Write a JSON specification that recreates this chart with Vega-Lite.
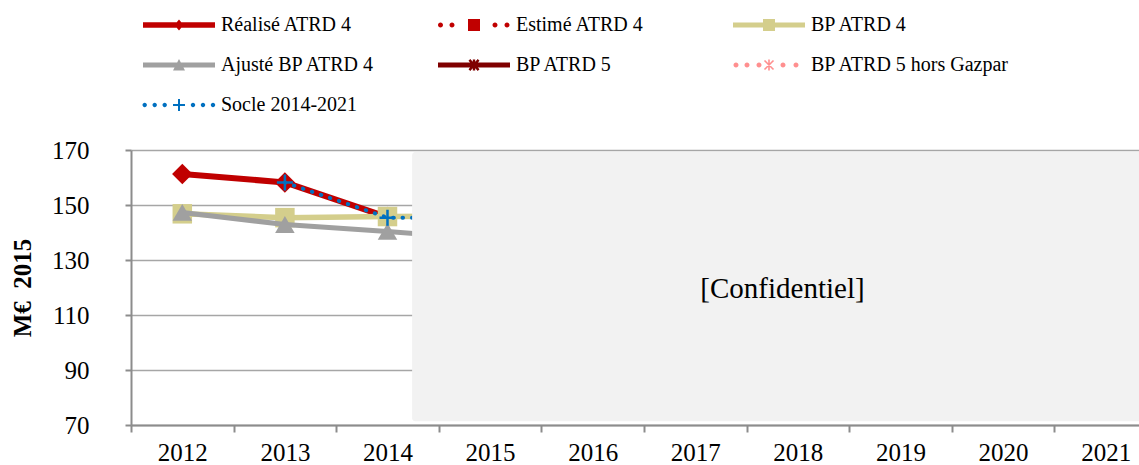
{
  "$schema": "https://vega.github.io/schema/vega-lite/v6.json",
  "autosize": {"type": "none"},
  "padding": {"left": 131, "top": 150, "right": 0, "bottom": 40},
  "width": 1008,
  "height": 275,
  "background": "white",
  "config": {
    "view": {"stroke": null},
    "font": "Liberation Serif",
    "axis": {"labelFont": "Liberation Serif", "titleFont": "Liberation Serif", "labelColor": "#000000", "titleColor": "#000000"}
  },
  "datasets": {
    "series": [
      {"series": "Réalisé ATRD 4", "year": 2012, "value": 161.3},
      {"series": "Réalisé ATRD 4", "year": 2013, "value": 158.2},
      {"series": "Réalisé ATRD 4", "year": 2014, "value": 145.6},
      {"series": "BP ATRD 4", "year": 2012, "value": 146.8},
      {"series": "BP ATRD 4", "year": 2013, "value": 145.4},
      {"series": "BP ATRD 4", "year": 2014, "value": 145.8},
      {"series": "BP ATRD 4", "year": 2015, "value": 146.0},
      {"series": "Ajusté BP ATRD 4", "year": 2012, "value": 147.3},
      {"series": "Ajusté BP ATRD 4", "year": 2013, "value": 142.9},
      {"series": "Ajusté BP ATRD 4", "year": 2014, "value": 140.4},
      {"series": "Ajusté BP ATRD 4", "year": 2015, "value": 137.5},
      {"series": "Socle 2014-2021", "year": 2013, "value": 158.2},
      {"series": "Socle 2014-2021", "year": 2014, "value": 145.4},
      {"series": "Socle 2014-2021", "year": 2015, "value": 145.3}
    ],
    "mask": [
      {"start": 2014.24, "end": 2021.6, "low": 71.4, "high": 169.3, "label": "[Confidentiel]", "labelYear": 2017.85, "labelValue": 119.3}
    ]
  },
  "encoding": {
    "x": {
      "field": "year", "type": "quantitative",
      "scale": {"domain": [2011.5, 2021.325], "nice": false, "zero": false},
      "axis": {
        "values": [2012, 2013, 2014, 2015, 2016, 2017, 2018, 2019, 2020, 2021],
        "format": "d", "title": null, "grid": false,
        "labelFontSize": 25, "labelPadding": 8, "labelFlush": false, "labelOverlap": false,
        "tickSize": 7, "tickOffset": -51.3, "labelOffset": 51.3,
        "tickColor": "#8c8c8c", "tickWidth": 2, "domainColor": "#8c8c8c", "domainWidth": 2
      }
    },
    "y": {
      "field": "value", "type": "quantitative",
      "scale": {"domain": [70, 170], "nice": false, "zero": false},
      "axis": {
        "values": [70, 90, 110, 130, 150, 170],
        "title": "M€ \u00a02015", "titleFontSize": 25, "titleFontWeight": "bold", "titlePadding": 16,
        "labelFontSize": 25, "labelPadding": 36,
        "tickSize": 6, "tickColor": "#8c8c8c", "tickWidth": 2,
        "domainColor": "#8c8c8c", "domainWidth": 2,
        "grid": true, "gridColor": "#a6a6a6", "gridWidth": 1.5
      }
    }
  },
  "layer": [
    {
      "data": {"name": "series"},
      "transform": [{"filter": "datum.series === 'Réalisé ATRD 4'"}],
      "mark": {"type": "line", "color": "#C00000", "strokeWidth": 6, "strokeCap": "round", "strokeJoin": "round"}
    },
    {
      "data": {"name": "series"},
      "transform": [{"filter": "datum.series === 'Réalisé ATRD 4'"}],
      "mark": {"type": "point", "shape": "diamond", "filled": true, "color": "#C00000", "size": 420, "opacity": 1}
    },
    {
      "data": {"name": "series"},
      "transform": [{"filter": "datum.series === 'BP ATRD 4'"}],
      "mark": {"type": "line", "color": "#D4CE8C", "strokeWidth": 5.5, "strokeCap": "round", "strokeJoin": "round"}
    },
    {
      "data": {"name": "series"},
      "transform": [{"filter": "datum.series === 'BP ATRD 4'"}],
      "mark": {"type": "point", "shape": "square", "filled": true, "color": "#D4CE8C", "size": 380, "opacity": 1}
    },
    {
      "data": {"name": "series"},
      "transform": [{"filter": "datum.series === 'Ajusté BP ATRD 4'"}],
      "mark": {"type": "line", "color": "#A0A0A0", "strokeWidth": 5, "strokeCap": "round", "strokeJoin": "round"}
    },
    {
      "data": {"name": "series"},
      "transform": [{"filter": "datum.series === 'Ajusté BP ATRD 4'"}],
      "mark": {"type": "point", "shape": "triangle-up", "filled": true, "color": "#A0A0A0", "size": 380, "opacity": 1}
    },
    {
      "data": {"name": "series"},
      "transform": [{"filter": "datum.series === 'Socle 2014-2021'"}],
      "mark": {"type": "line", "color": "#0070C0", "strokeWidth": 4, "strokeCap": "round", "strokeDash": [0.5, 9]}
    },
    {
      "data": {"name": "series"},
      "transform": [{"filter": "datum.series === 'Socle 2014-2021'"}],
      "mark": {"type": "point", "shape": "M-1,0H1M0,-1V1", "filled": false, "color": "#0070C0", "strokeWidth": 2.5, "size": 256, "opacity": 1}
    },
    {
      "data": {"name": "mask"},
      "mark": {"type": "rect", "color": "#F2F2F2", "cornerRadius": 3, "clip": true, "opacity": 1},
      "encoding": {
        "x": {"field": "start", "type": "quantitative"},
        "x2": {"field": "end"},
        "y": {"field": "high", "type": "quantitative"},
        "y2": {"field": "low"}
      }
    },
    {
      "data": {"name": "mask"},
      "mark": {"type": "text", "font": "Liberation Serif", "fontSize": 29, "color": "#000000", "align": "center", "baseline": "middle"},
      "encoding": {
        "x": {"field": "labelYear", "type": "quantitative"},
        "y": {"field": "labelValue", "type": "quantitative"},
        "text": {"field": "label"}
      }
    },
    {
      "data": {"name": "series"},
      "transform": [{"filter": "false"}],
      "mark": {"type": "point", "filled": true, "size": 400, "opacity": 1, "strokeWidth": 0},
      "encoding": {
        "color": {
          "field": "series", "type": "nominal",
          "scale": {
            "domain": ["Réalisé ATRD 4", "Estimé ATRD 4", "BP ATRD 4", "Ajusté BP ATRD 4", "BP ATRD 5", "BP ATRD 5 hors Gazpar", "Socle 2014-2021"],
            "range": ["#C00000", "#C00000", "#D4CE8C", "#A0A0A0", "#7F0000", "#FF8F8F", "#0070C0"]
          },
          "legend": {
            "orient": "none", "legendX": 12, "legendY": -135,
            "title": null, "columns": 3, "direction": "horizontal", "gridAlign": "all",
            "columnPadding": 18, "rowPadding": 20, "padding": 0,
            "symbolSize": 400, "symbolStrokeWidth": 0, "symbolOpacity": 1,
            "labelFont": "Liberation Serif", "labelFontSize": 20, "labelColor": "#000000",
            "labelOffset": 58, "labelLimit": 400
          }
        },
        "shape": {
          "field": "series", "type": "nominal",
          "scale": {
            "domain": ["Réalisé ATRD 4", "Estimé ATRD 4", "BP ATRD 4", "Ajusté BP ATRD 4", "BP ATRD 5", "BP ATRD 5 hors Gazpar", "Socle 2014-2021"],
            "range": [
              "M-1,-0.27H6.2V0.27H-1Z M2.15,0L2.6,-0.55L3.05,0L2.6,0.55Z",
              "M-1,0a0.25,0.25 0 1,1 0.5,0a0.25,0.25 0 1,1 -0.5,0Z M0.15,0a0.25,0.25 0 1,1 0.5,0a0.25,0.25 0 1,1 -0.5,0Z M2,-0.6H3.2V0.6H2Z M4.45,0a0.25,0.25 0 1,1 0.5,0a0.25,0.25 0 1,1 -0.5,0Z M5.65,0a0.25,0.25 0 1,1 0.5,0a0.25,0.25 0 1,1 -0.5,0Z",
              "M-1,-0.25H6.2V0.25H-1Z M2,-0.6H3.2V0.6H2Z",
              "M-1,-0.25H6.2V0.25H-1Z M2.6,-0.6L3.2,0.55L2,0.55Z",
              "M-1,-0.25H6.2V0.25H-1Z M2.48,-0.55H2.72V0.55H2.48Z M2.05,-0.43L2.23,-0.6L3.15,0.43L2.97,0.6Z M2.05,0.43L2.97,-0.6L3.15,-0.43L2.23,0.6Z",
              "M-0.95,0a0.25,0.25 0 1,1 0.5,0a0.25,0.25 0 1,1 -0.5,0Z M0.15,0a0.25,0.25 0 1,1 0.5,0a0.25,0.25 0 1,1 -0.5,0Z M1.35,0a0.25,0.25 0 1,1 0.5,0a0.25,0.25 0 1,1 -0.5,0Z M2.52,-0.55H2.68V0.55H2.52Z M2.093,-0.393L2.207,-0.507L3.107,0.393L2.993,0.507Z M2.093,0.393L2.993,-0.507L3.107,-0.393L2.207,0.507Z M3.75,0a0.25,0.25 0 1,1 0.5,0a0.25,0.25 0 1,1 -0.5,0Z M5.05,0a0.25,0.25 0 1,1 0.5,0a0.25,0.25 0 1,1 -0.5,0Z",
              "M-1.05,0a0.22,0.22 0 1,1 0.44,0a0.22,0.22 0 1,1 -0.44,0Z M-0.05,0a0.22,0.22 0 1,1 0.44,0a0.22,0.22 0 1,1 -0.44,0Z M0.95,0a0.22,0.22 0 1,1 0.44,0a0.22,0.22 0 1,1 -0.44,0Z M2,-0.1H3.2V0.1H2Z M2.5,-0.6H2.7V0.6H2.5Z M3.78,0a0.22,0.22 0 1,1 0.44,0a0.22,0.22 0 1,1 -0.44,0Z M4.78,0a0.22,0.22 0 1,1 0.44,0a0.22,0.22 0 1,1 -0.44,0Z M5.78,0a0.22,0.22 0 1,1 0.44,0a0.22,0.22 0 1,1 -0.44,0Z"
            ]
          },
          "legend": null
        }
      }
    }
  ]
}
